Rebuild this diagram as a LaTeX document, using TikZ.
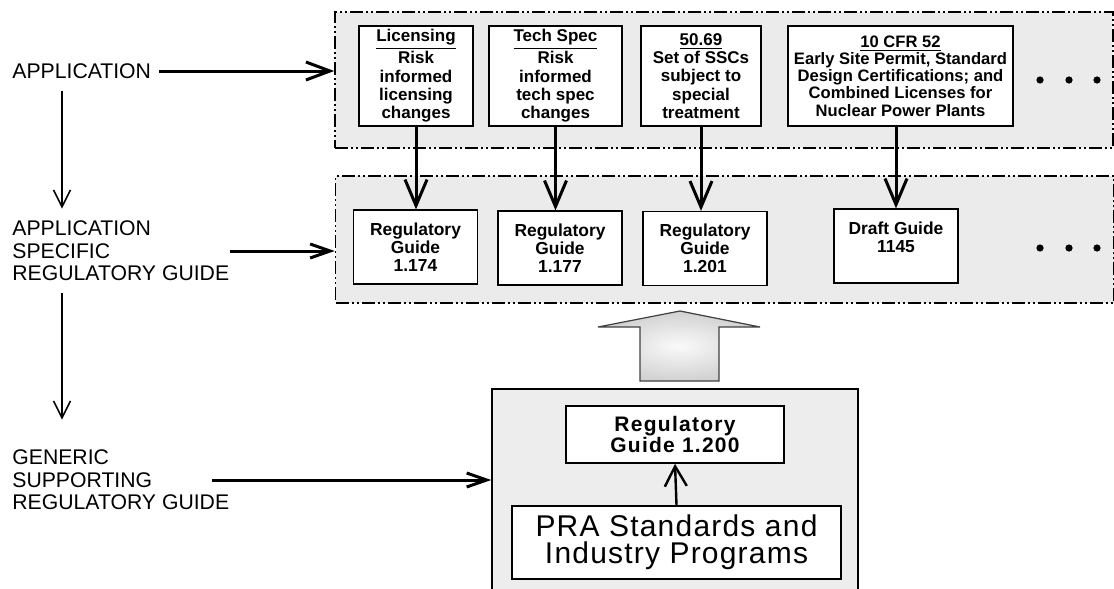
\documentclass[tikz,border=0pt]{standalone}
\usepackage{fontspec}
\setmainfont{Liberation Sans}
\newfontfamily\wideface[LetterSpace=4]{Liberation Sans}
\newfontfamily\widerface[LetterSpace=6]{Liberation Sans}
\usetikzlibrary{arrows.meta}

\begin{document}
\begin{tikzpicture}[x=0.5pt,y=-0.5pt,
  panel/.style={draw, line width=0.8pt, fill=black!8, minimum width=389pt,
    dash pattern=on 6.5pt off 1.5pt on 1pt off 1.5pt on 1pt off 1.5pt},
  appbox/.style={draw, line width=0.6pt, fill=white, minimum height=50pt, inner sep=0pt,
    align=center, font=\fontsize{8.5}{9.2}\selectfont\bfseries},
  rgbox/.style={draw, line width=0.6pt, fill=white, minimum width=62pt, minimum height=37pt,
    inner sep=0pt, align=center, font=\fontsize{8.7}{8.9}\selectfont\bfseries},
  level/.style={anchor=west, align=left, inner sep=0pt, font=\fontsize{10.6}{11.2}\selectfont},
  feed/.style={line width=1.5pt, -{Straight Barb[length=13pt,width=11pt]}},
  lead/.style={line width=1.5pt, -{Straight Barb[length=12pt,width=9pt]}},
  down/.style={line width=0.8pt, -{Straight Barb[length=8.5pt,width=8.5pt]}}]
\useasboundingbox (0,0) rectangle (1114,589);

% dashed panels
\node[panel, minimum height=68pt] (apps) at (724,80) {};
\node[panel, minimum height=63.5pt] (guides) at (724.5,239.5) {};

% applications
\node[appbox, minimum width=57pt] (lic) at (416,76) {\underline{Licensing}\\Risk\\informed\\licensing\\changes};
\node[appbox, minimum width=66.5pt] (tech) at (555.5,76) {\underline{Tech Spec}\\Risk\\informed\\tech spec\\changes};
\node[appbox, minimum width=60pt] (ssc) at (701,76) {\underline{50.69}\\Set of SSCs\\subject to\\special\\treatment};
\node[appbox, minimum width=112.5pt, font=\fontsize{8.3}{8.6}\selectfont\bfseries] (cfr) at (900.5,76)
  {\underline{10 CFR 52}\\Early Site Permit, Standard\\Design Certifications; and\\Combined Licenses for\\Nuclear Power Plants};

% guides
\node[rgbox] (rg174) at (415.5,247) {Regulatory\\Guide\\1.174};
\node[rgbox] (rg177) at (560,248) {Regulatory\\Guide\\1.177};
\node[rgbox] (rg201) at (705,248.5) {Regulatory\\Guide\\1.201};
\node[rgbox] (dg) at (896,246) {Draft Guide\\1145\\\mbox{}};

\foreach \x in {1040,1069,1097} {
  \fill (\x,80) circle (1.8pt);
  \fill (\x,248) circle (1.8pt);
}

\draw[feed] (lic.south) -- (lic.south |- rg174.north);
\draw[feed] (tech.south) -- (tech.south |- rg177.north);
\draw[feed] (ssc.south) -- (ssc.south |- rg201.north);
\draw[feed] (dg.north |- cfr.south) -- (dg.north);

% generic support
\node[draw, line width=0.8pt, fill=black!7, minimum width=183pt, minimum height=110.5pt] (support) at (675,499.5) {};
\node[draw, line width=0.8pt, fill=white, minimum width=109pt, minimum height=28.5pt, inner sep=0pt,
  align=center, font=\fontsize{10.5}{8.6}\selectfont\bfseries\widerface] (rg200) at (675,434.5) {Regulatory\\Guide 1.200};
\node[draw, line width=1pt, fill=white, minimum width=164.5pt, minimum height=36.5pt, inner sep=0pt,
  align=center, font=\fontsize{15}{13.5}\selectfont\wideface] (pra) at (676.5,542.5) {PRA Standards and\\Industry Programs};
\draw[line width=1.2pt, -{Straight Barb[length=10pt,width=11pt]}] (pra.north) -- (rg200.south);

\draw[draw=black!75, line width=0.6pt, inner color=black!2, outer color=black!18]
  (640,381) -- (640,327) -- (598,327) -- (680,311) -- (760,327) -- (719,327) -- (719,381) -- cycle;

% levels
\node[level] (app) at (12,71) {APPLICATION};
\node[level] (spec) at (12,251) {APPLICATION\\SPECIFIC\\REGULATORY GUIDE};
\node[level] (gen) at (12,480) {GENERIC\\SUPPORTING\\REGULATORY GUIDE};

\draw[lead, shorten <=4pt] (app.east) -- (app.east -| apps.west);
\draw[line width=1.5pt, -{Straight Barb[length=10pt,width=7pt]}] (spec.east) -- (spec.east -| guides.west);
\draw[line width=1.5pt, -{Straight Barb[length=10pt,width=7pt]}] ([xshift=-9pt]gen.east) -- (gen.east -| support.west);
\draw[down] ([xshift=25pt,yshift=-6pt]app.south west) -- ([xshift=25pt,yshift=6pt]spec.north west);
\draw[down] ([xshift=25pt,yshift=-6pt]spec.south west) -- ([xshift=25pt,yshift=15pt]gen.north west);
\end{tikzpicture}
\end{document}
